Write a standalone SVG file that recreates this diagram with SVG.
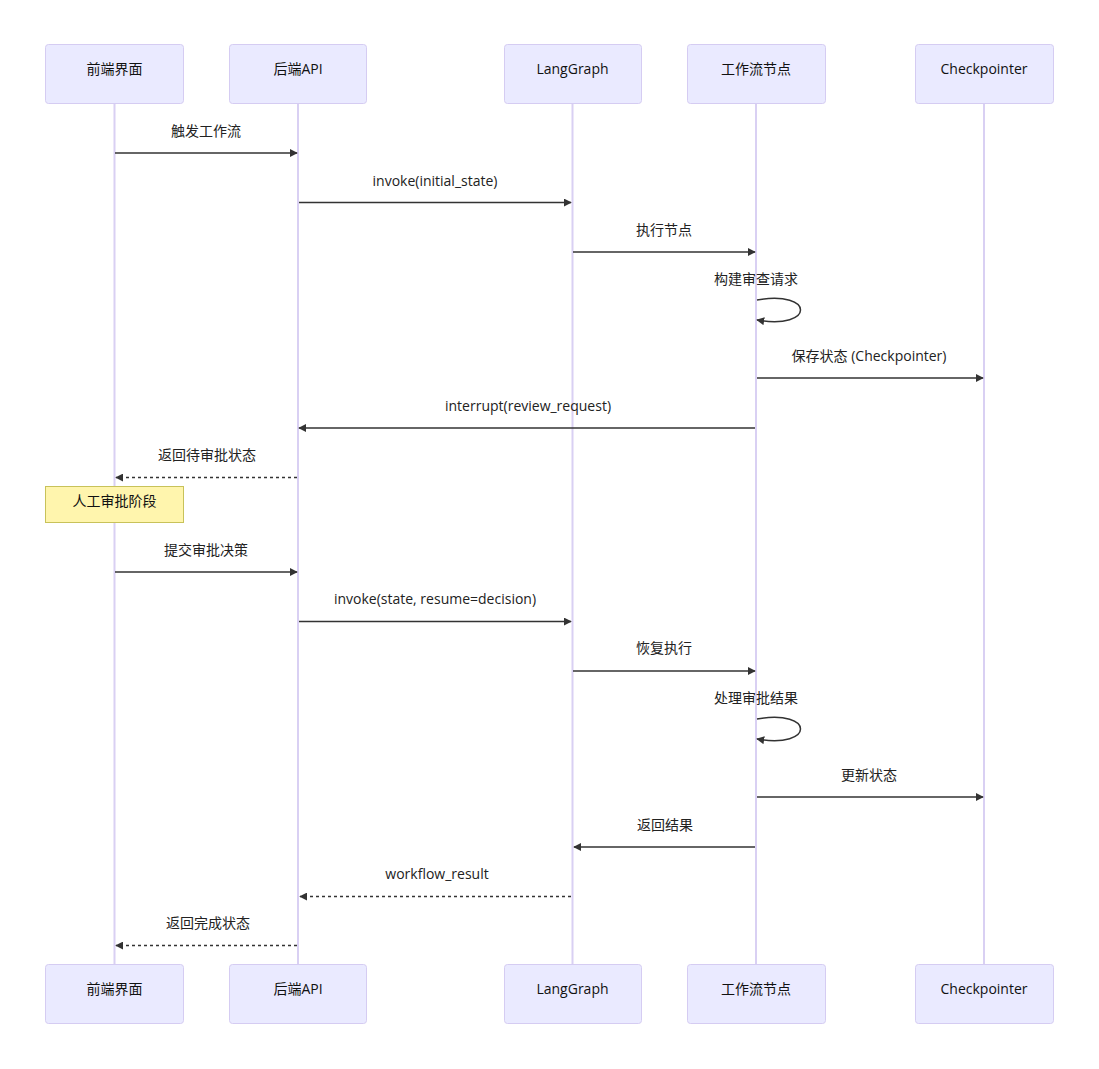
<svg xmlns="http://www.w3.org/2000/svg" width="1099" height="1069" viewBox="0 0 1099 1069">
<style>
.actor{fill:#eaeaff;stroke:#d5ccf2;stroke-width:1}
.atext{font-family:"Open Sans","Noto Sans CJK SC",sans-serif;font-size:14px;fill:#111;text-anchor:middle;dominant-baseline:central}
.life{stroke:#d9d0f3;stroke-width:2}
.msg{stroke:#333;stroke-width:1.5;fill:none}
.dash{stroke-dasharray:3,3}
.mtext{font-family:"Open Sans","Noto Sans CJK SC",sans-serif;font-size:14px;fill:#222;text-anchor:middle;dominant-baseline:central}
.note{fill:#fff5ad;stroke:#c8c25a;stroke-width:1}
</style>
<defs>
<marker id="arrow" viewBox="0 0 10 10" refX="9" refY="5" markerWidth="8" markerHeight="8" markerUnits="userSpaceOnUse" orient="auto">
<path d="M0,0 L10,5 L0,10 z" fill="#333"/>
</marker>
</defs>
<rect width="1099" height="1069" fill="#fff"/>
<g id="lifelines">
<line class="life" x1="114.5" y1="103" x2="114.5" y2="964"/>
<line class="life" x1="298" y1="103" x2="298" y2="964"/>
<line class="life" x1="572.5" y1="103" x2="572.5" y2="964"/>
<line class="life" x1="756" y1="103" x2="756" y2="964"/>
<line class="life" x1="984" y1="103" x2="984" y2="964"/>
</g>
<g id="actor-frontend-top"><rect class="actor" x="45.5" y="44.5" width="138" height="59" rx="3"/><text class="atext" x="114.5" y="68">前端界面</text></g>
<g id="actor-backend-top"><rect class="actor" x="229.5" y="44.5" width="137" height="59" rx="3"/><text class="atext" x="298" y="68">后端API</text></g>
<g id="actor-langgraph-top"><rect class="actor" x="504.5" y="44.5" width="137" height="59" rx="3"/><text class="atext" x="572.5" y="68">LangGraph</text></g>
<g id="actor-node-top"><rect class="actor" x="687.5" y="44.5" width="138" height="59" rx="3"/><text class="atext" x="756" y="68">工作流节点</text></g>
<g id="actor-checkpointer-top"><rect class="actor" x="915.5" y="44.5" width="138" height="59" rx="3"/><text class="atext" x="984" y="68">Checkpointer</text></g>
<g id="actor-frontend-bottom"><rect class="actor" x="45.5" y="964.5" width="138" height="59" rx="3"/><text class="atext" x="114.5" y="988">前端界面</text></g>
<g id="actor-backend-bottom"><rect class="actor" x="229.5" y="964.5" width="137" height="59" rx="3"/><text class="atext" x="298" y="988">后端API</text></g>
<g id="actor-langgraph-bottom"><rect class="actor" x="504.5" y="964.5" width="137" height="59" rx="3"/><text class="atext" x="572.5" y="988">LangGraph</text></g>
<g id="actor-node-bottom"><rect class="actor" x="687.5" y="964.5" width="138" height="59" rx="3"/><text class="atext" x="756" y="988">工作流节点</text></g>
<g id="actor-checkpointer-bottom"><rect class="actor" x="915.5" y="964.5" width="138" height="59" rx="3"/><text class="atext" x="984" y="988">Checkpointer</text></g>
<g id="note-review"><rect class="note" x="45.5" y="486.5" width="138" height="36"/><text class="atext" x="114.5" y="500">人工审批阶段</text></g>
<g id="connectors">
<line class="msg" x1="115" y1="153" x2="297" y2="153" marker-end="url(#arrow)"/>
<line class="msg" x1="299" y1="202.5" x2="571" y2="202.5" marker-end="url(#arrow)"/>
<line class="msg" x1="573" y1="252" x2="755" y2="252" marker-end="url(#arrow)"/>
<path class="msg" d="M757,300 C815,290 815,330 757,320" marker-end="url(#arrow)"/>
<line class="msg" x1="757" y1="378" x2="983" y2="378" marker-end="url(#arrow)"/>
<line class="msg" x1="755" y1="428" x2="299" y2="428" marker-end="url(#arrow)"/>
<line class="msg dash" x1="297" y1="477.5" x2="116" y2="477.5" marker-end="url(#arrow)"/>
<line class="msg" x1="115" y1="572" x2="297" y2="572" marker-end="url(#arrow)"/>
<line class="msg" x1="299" y1="621.5" x2="571" y2="621.5" marker-end="url(#arrow)"/>
<line class="msg" x1="573" y1="671" x2="755" y2="671" marker-end="url(#arrow)"/>
<path class="msg" d="M757,719 C815,709 815,749 757,739" marker-end="url(#arrow)"/>
<line class="msg" x1="757" y1="797" x2="983" y2="797" marker-end="url(#arrow)"/>
<line class="msg" x1="755" y1="847" x2="574" y2="847" marker-end="url(#arrow)"/>
<line class="msg dash" x1="571" y1="896.5" x2="300" y2="896.5" marker-end="url(#arrow)"/>
<line class="msg dash" x1="297" y1="945.5" x2="116" y2="945.5" marker-end="url(#arrow)"/>
</g>
<g id="labels">
<text class="mtext" x="206" y="130">触发工作流</text>
<text class="mtext" x="435" y="180">invoke(initial_state)</text>
<text class="mtext" x="664" y="229">执行节点</text>
<text class="mtext" x="756" y="278">构建审查请求</text>
<text class="mtext" x="869" y="355">保存状态 (Checkpointer)</text>
<text class="mtext" x="528" y="405">interrupt(review_request)</text>
<text class="mtext" x="207" y="454">返回待审批状态</text>
<text class="mtext" x="206" y="549">提交审批决策</text>
<text class="mtext" x="435" y="598">invoke(state, resume=decision)</text>
<text class="mtext" x="664" y="647">恢复执行</text>
<text class="mtext" x="756" y="697">处理审批结果</text>
<text class="mtext" x="869" y="774">更新状态</text>
<text class="mtext" x="665" y="824">返回结果</text>
<text class="mtext" x="437" y="873">workflow_result</text>
<text class="mtext" x="208" y="922">返回完成状态</text>
</g>
</svg>
